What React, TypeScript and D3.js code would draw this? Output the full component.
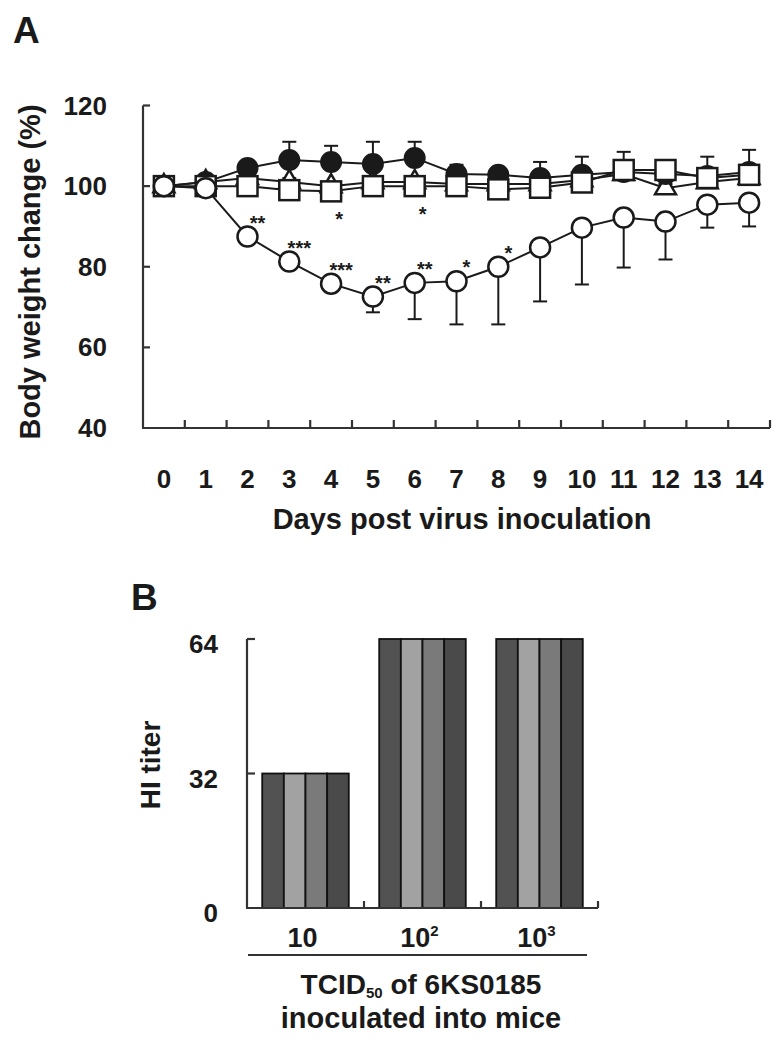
import React from "react";
import * as d3 from "d3";

// ---------- Panel A data ----------
const days = [0, 1, 2, 3, 4, 5, 6, 7, 8, 9, 10, 11, 12, 13, 14];
const yTicksA = [40, 60, 80, 100, 120];

const filledMean = [100, 101, 104.5, 106.5, 106, 105.5, 107, 103, 102.8, 102, 102.8, 103.5, 103, 102.5, 103.5];
const filledErr = [0.5, 1, 1.5, 4.5, 4, 5.5, 4, 2.3, 0.5, 4, 4.5, 2, 1, 4.8, 5.5];

const triMean = [100, 101, 102, 101, 100, 101, 101, 100.5, 100.5, 100.5, 101.5, 103, 99.5, 101, 102];
const triErr = [0.5, 1, 1, 1, 1, 1, 1, 1, 1, 1, 1, 1.5, 1, 1, 1];

const sqMean = [100, 100, 100, 99, 98.7, 100, 100, 100, 99.2, 99.6, 100.9, 104, 104, 102, 102.8];
const sqErr = [0.5, 0.5, 1, 1, 1, 1, 1, 1, 1, 1, 1, 4.5, 1, 1, 1];

const openMean = [100, 99.5, 87.5, 81.3, 75.8, 72.6, 76, 76.4, 80, 84.8, 89.7, 92.2, 91.2, 95.4, 95.9];
const openErrLow = [0.5, 0.5, 1, 1, 1, 3.9, 9, 10.7, 14.3, 13.4, 14.1, 12.4, 9.4, 5.7, 5.9];

const starsAbove = ["", "", "**", "***", "***", "**", "**", "*", "*", "", "", "", "", "", ""];
const starsBelow = ["", "", "", "", "*", "", "*", "", "", "", "", "", "", "", ""];

// ---------- Panel B data ----------
const doseBase = ["10", "10", "10"];
const doseExp = ["", "2", "3"];
const doseKeys = ["d1", "d2", "d3"];
const mice = ["m1", "m2", "m3", "m4"];
const hiTiters = [
  [32, 32, 32, 32],
  [64, 64, 64, 64],
  [64, 64, 64, 64],
];
const yTicksB = [0, 32, 64];
const barColors = ["#525252", "#a2a2a2", "#7a7a7a", "#4a4a4a"];

const FONT = "'Liberation Sans', Arial, Helvetica, sans-serif";
const AX = "#333";
const INK = "#1a1a1a";

export default function App() {
  const W = 784;
  const H = 1042;

  // ---- A scales ----
  const xA = d3.scaleBand<number>().domain(days).range([143, 770]);
  const yA = d3.scaleLinear().domain([40, 120]).range([428, 105.5]);
  const cx = (d: number) => (xA(d) as number) + xA.bandwidth() / 2;
  const line = d3
    .line<number>()
    .x((_, i) => cx(days[i]))
    .y((v) => yA(v));
  const triPath = d3.symbol().type(d3.symbolTriangle).size(190)() as string;

  const capW = 7;
  const upBars = (mean: number[], err: number[], key: string) =>
    days.map((d, i) => {
      const x = cx(d);
      const y0 = yA(mean[i]);
      const y1 = yA(mean[i] + err[i]);
      return (
        <g key={key + i} stroke={INK} strokeWidth={2}>
          <line x1={x} x2={x} y1={y0} y2={y1} />
          <line x1={x - capW} x2={x + capW} y1={y1} y2={y1} />
        </g>
      );
    });

  // ---- B scales ----
  const xB = d3.scaleBand<string>().domain(doseKeys).range([247, 598]).paddingInner(0.26).paddingOuter(0.13);
  const sub = d3.scaleBand<string>().domain(mice).range([0, xB.bandwidth()]);
  const yB = d3.scaleLinear().domain([0, 64]).range([908, 639]);
  const bStart = xB.range()[0];

  return (
    <svg
      width={W}
      height={H}
      viewBox={`0 0 ${W} ${H}`}
      style={{ position: "absolute", left: 0, top: 0, background: "#fff" }}
      fontFamily={FONT}
      fontWeight="bold"
    >
      <rect x={0} y={0} width={W} height={H} fill="#fff" />

      {/* ================= Panel A ================= */}
      <text x={13} y={43} fontSize={37} fill={INK}>A</text>

      {/* axes */}
      <g stroke={AX} strokeWidth={2.2} fill="none">
        <line x1={143} x2={143} y1={yA(120)} y2={yA(40)} />
        <line x1={142} x2={770} y1={yA(40)} y2={yA(40)} />
        {yTicksA.filter((t) => t !== 40).map((t) => (
          <line key={"yt" + t} x1={143} x2={150} y1={yA(t)} y2={yA(t)} />
        ))}
        {days.map((d, i) => {
          const xb = (xA(d) as number) + xA.bandwidth();
          return <line key={"xt" + i} x1={xb} x2={xb} y1={yA(40)} y2={yA(40) - 8} />;
        })}
      </g>
      {yTicksA.map((t) => (
        <text key={"yl" + t} x={107} y={yA(t) + 9} fontSize={26} textAnchor="end" fill={INK}>
          {t}
        </text>
      ))}
      {days.map((d) => (
        <text key={"xl" + d} x={cx(d)} y={488} fontSize={26} textAnchor="middle" fill={INK}>
          {d}
        </text>
      ))}
      <text x={462} y={529} fontSize={29} textAnchor="middle" fill={INK}>
        Days post virus inoculation
      </text>
      <text
        transform={`translate(40, 272) rotate(-90)`}
        fontSize={29}
        textAnchor="middle"
        fill={INK}
      >
        Body weight change (%)
      </text>

      {/* series lines */}
      <g fill="none" stroke={INK} strokeWidth={2}>
        <path d={line(filledMean) as string} />
        <path d={line(triMean) as string} />
        <path d={line(sqMean) as string} />
        <path d={line(openMean) as string} />
      </g>

      {/* error bars */}
      {upBars(filledMean, filledErr, "fe")}
      {upBars(triMean, triErr, "te")}
      {upBars(sqMean, sqErr, "se")}
      {days.map((d, i) => {
        const x = cx(d);
        const y0 = yA(openMean[i]);
        const y1 = yA(openMean[i] - openErrLow[i]);
        return (
          <g key={"oe" + i} stroke={INK} strokeWidth={2}>
            <line x1={x} x2={x} y1={y0} y2={y1} />
            <line x1={x - capW} x2={x + capW} y1={y1} y2={y1} />
          </g>
        );
      })}

      {/* markers */}
      {days.map((d, i) => (
        <path
          key={"tr" + i}
          d={triPath}
          transform={`translate(${cx(d)},${yA(triMean[i])})`}
          fill="#fff"
          stroke={INK}
          strokeWidth={2.5}
        />
      ))}
      {days.map((d, i) => (
        <circle key={"fc" + i} cx={cx(d)} cy={yA(filledMean[i])} r={10} fill={INK} stroke={INK} strokeWidth={2} />
      ))}
      {days.map((d, i) => (
        <rect
          key={"sq" + i}
          x={cx(d) - 10}
          y={yA(sqMean[i]) - 10}
          width={20}
          height={20}
          fill="#fff"
          stroke={INK}
          strokeWidth={2.5}
        />
      ))}
      {days.map((d, i) => (
        <circle key={"oc" + i} cx={cx(d)} cy={yA(openMean[i])} r={10} fill="#fff" stroke={INK} strokeWidth={2.5} />
      ))}

      {/* significance stars */}
      {days.map((d, i) =>
        starsAbove[i] ? (
          <text key={"sa" + i} x={cx(d) + 10} y={yA(openMean[i]) - 7} fontSize={20} textAnchor="middle" fill={INK}>
            {starsAbove[i]}
          </text>
        ) : null
      )}
      {days.map((d, i) =>
        starsBelow[i] ? (
          <text key={"sb" + i} x={cx(d) + 8} y={yA(sqMean[i]) + 35} fontSize={20} textAnchor="middle" fill={INK}>
            {starsBelow[i]}
          </text>
        ) : null
      )}

      {/* ================= Panel B ================= */}
      <text x={131} y={610} fontSize={37} fill={INK}>B</text>

      {/* bars */}
      {doseKeys.map((k, gi) => (
        <g key={"bg" + k}>
          {mice.map((m, mi) => {
            const v = hiTiters[gi][mi];
            return (
              <rect
                key={k + m}
                x={(xB(k) as number) + (sub(m) as number)}
                y={yB(v)}
                width={sub.bandwidth()}
                height={yB(0) - yB(v)}
                fill={barColors[mi]}
                stroke="#111"
                strokeWidth={1.8}
              />
            );
          })}
        </g>
      ))}

      {/* axes B */}
      <g stroke={AX} strokeWidth={2.2} fill="none">
        <line x1={247} x2={247} y1={yB(64)} y2={yB(0)} />
        <line x1={246} x2={598} y1={yB(0)} y2={yB(0)} />
        {yTicksB.filter((t) => t !== 0).map((t) => (
          <line key={"byt" + t} x1={247} x2={255} y1={yB(t)} y2={yB(t)} />
        ))}
        {doseKeys.map((k, i) => {
          const xb = bStart + (i + 1) * xB.step();
          return <line key={"bxt" + k} x1={xb} x2={xb} y1={yB(0)} y2={yB(0) - 7} />;
        })}
      </g>
      {yTicksB.map((t) => (
        <text key={"byl" + t} x={218} y={yB(t) + 14} fontSize={26} textAnchor="end" fill={INK}>
          {t}
        </text>
      ))}
      {doseKeys.map((k, i) => (
        <text
          key={"bxl" + k}
          x={(xB(k) as number) + xB.bandwidth() / 2 - 3}
          y={947}
          fontSize={27}
          textAnchor="middle"
          fill={INK}
        >
          {doseBase[i]}
          {doseExp[i] ? (
            <tspan fontSize={15} dy={-11}>
              {doseExp[i]}
            </tspan>
          ) : null}
        </text>
      ))}
      <line x1={248} x2={587} y1={955} y2={955} stroke={AX} strokeWidth={2.2} />
      <text x={421} y={994} fontSize={28} textAnchor="middle" fill={INK}>
        TCID
        <tspan fontSize={15} dy={4}>50</tspan>
        <tspan dy={-4}> of 6KS0185</tspan>
      </text>
      <text x={421} y={1028} fontSize={29} textAnchor="middle" fill={INK}>
        inoculated into mice
      </text>
      <text transform={`translate(160, 765) rotate(-90)`} fontSize={28} textAnchor="middle" fill={INK}>
        HI titer
      </text>
    </svg>
  );
}
